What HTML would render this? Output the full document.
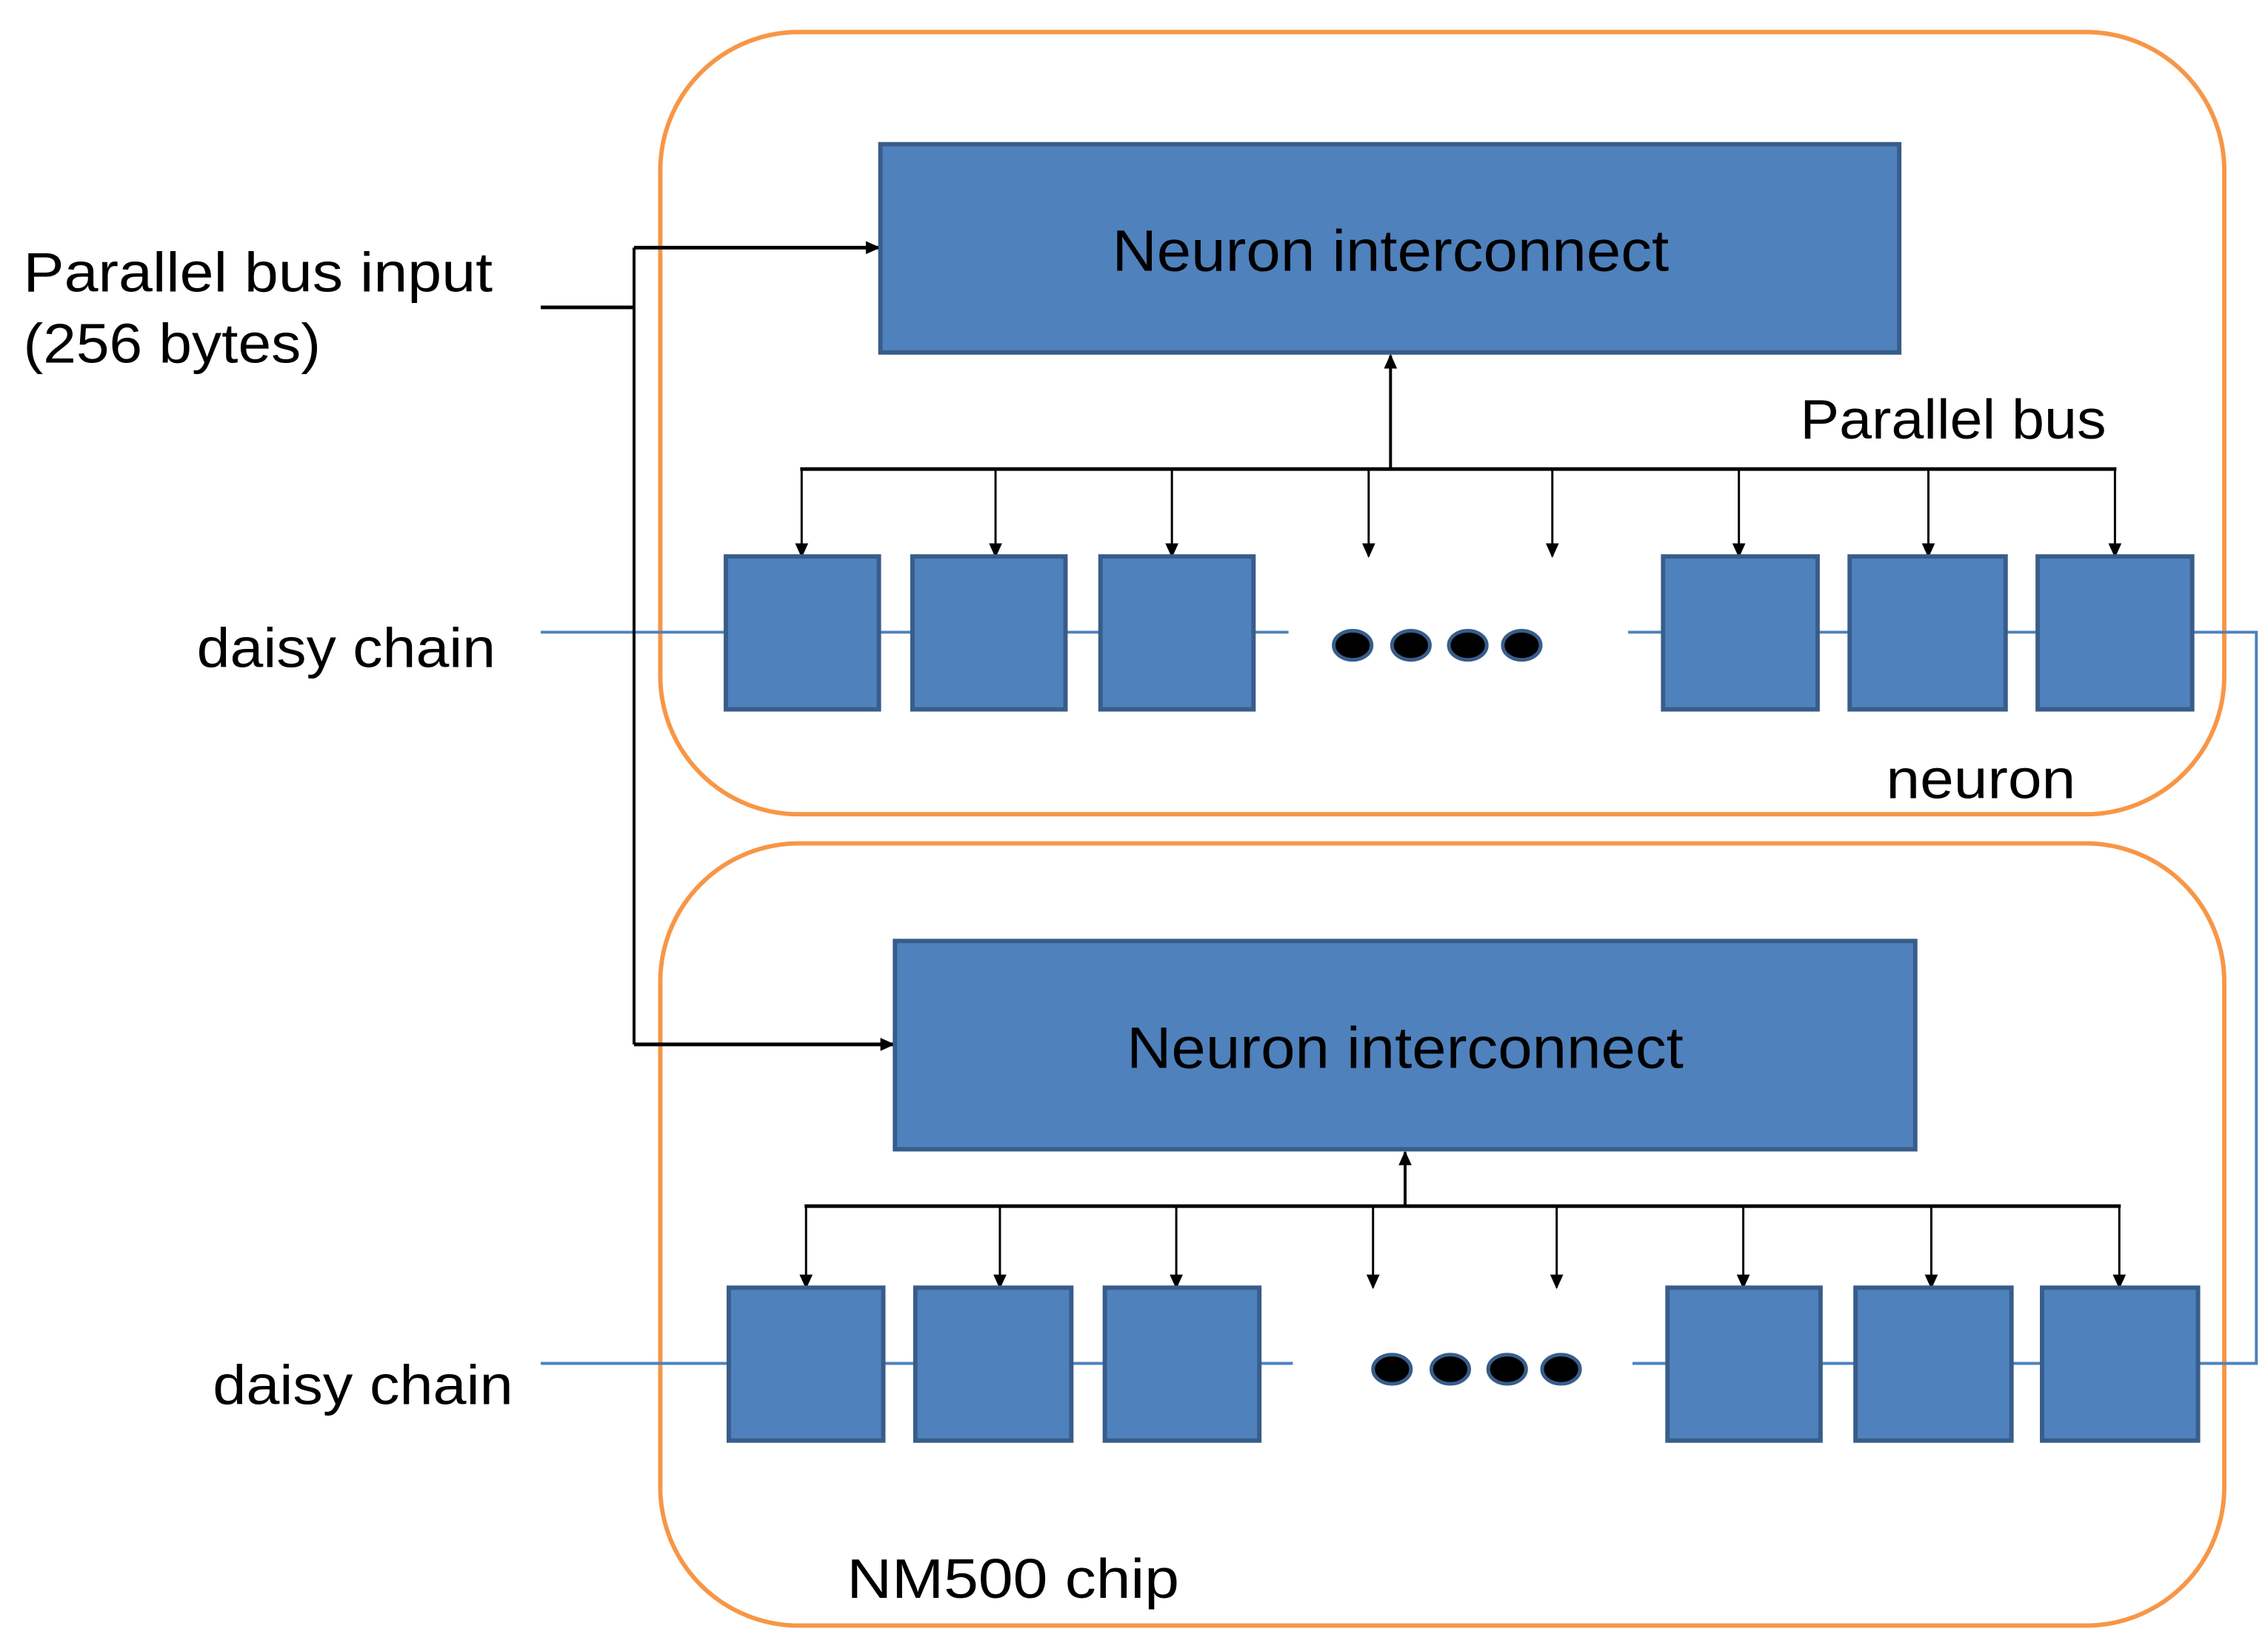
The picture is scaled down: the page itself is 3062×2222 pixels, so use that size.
<!DOCTYPE html>
<html><head><meta charset="utf-8"><style>
html,body{margin:0;padding:0;background:#fff;}
svg{display:block;}
text{font-family:"Liberation Sans",sans-serif;fill:#000;}
</style></head><body>
<svg width="3062" height="2222" viewBox="0 0 1556 1130" preserveAspectRatio="none" xmlns="http://www.w3.org/2000/svg">
<defs>
<marker id="a" markerWidth="10" markerHeight="12" refX="9" refY="5" orient="auto" markerUnits="userSpaceOnUse"><path d="M0,0.5 L10,5 L0,9.5 z" fill="#000"/></marker>
</defs>
<rect x="453" y="22" width="1073" height="537" rx="95" fill="none" stroke="#F79646" stroke-width="3"/>
<rect x="453" y="579" width="1073" height="537" rx="95" fill="none" stroke="#F79646" stroke-width="3"/>
<g stroke="#4F81BD" stroke-width="2" fill="none">
<line x1="371" y1="434" x2="884" y2="434"/>
<polyline points="1117,434 1548,434 1548,936 1508,936"/>
<line x1="371" y1="936" x2="887" y2="936"/>
<line x1="1120" y1="936" x2="1508" y2="936"/>
</g>
<g stroke="#000" stroke-width="2" fill="none">
<line x1="371" y1="211" x2="435" y2="211" stroke-width="2.5"/>
<line x1="435" y1="170" x2="435" y2="717"/>
<line x1="435" y1="170" x2="603" y2="170" marker-end="url(#a)" stroke-width="2.5"/>
<line x1="435" y1="717" x2="613" y2="717" marker-end="url(#a)" stroke-width="2.5"/>
</g>
<rect x="604" y="99" width="699" height="143" fill="#4F81BD" stroke="#385D8A" stroke-width="3"/>
<rect x="614" y="646" width="700" height="143" fill="#4F81BD" stroke="#385D8A" stroke-width="3"/>
<text x="954" y="186" font-size="40" text-anchor="middle" textLength="382" lengthAdjust="spacingAndGlyphs">Neuron interconnect</text>
<text x="964" y="733" font-size="40" text-anchor="middle" textLength="382" lengthAdjust="spacingAndGlyphs">Neuron interconnect</text>
<g stroke="#000" stroke-width="2" fill="none">
<line x1="954" y1="322" x2="954" y2="244" marker-end="url(#a)"/>
<line x1="549" y1="322" x2="1452" y2="322" stroke-width="2.5"/>
<line x1="964" y1="828" x2="964" y2="791" marker-end="url(#a)"/>
<line x1="552" y1="828" x2="1455" y2="828" stroke-width="2.5"/>
</g>
<g stroke="#000" stroke-width="1.5" fill="none" marker-end="url(#a)">
<line x1="550" y1="322" x2="550" y2="382"/><line x1="683" y1="322" x2="683" y2="382"/><line x1="804" y1="322" x2="804" y2="382"/><line x1="939" y1="322" x2="939" y2="382"/><line x1="1065" y1="322" x2="1065" y2="382"/><line x1="1193" y1="322" x2="1193" y2="382"/><line x1="1323" y1="322" x2="1323" y2="382"/><line x1="1451" y1="322" x2="1451" y2="382"/>
<line x1="553" y1="828" x2="553" y2="884"/><line x1="686" y1="828" x2="686" y2="884"/><line x1="807" y1="828" x2="807" y2="884"/><line x1="942" y1="828" x2="942" y2="884"/><line x1="1068" y1="828" x2="1068" y2="884"/><line x1="1196" y1="828" x2="1196" y2="884"/><line x1="1325" y1="828" x2="1325" y2="884"/><line x1="1454" y1="828" x2="1454" y2="884"/>
</g>
<g fill="#4F81BD" stroke="#385D8A" stroke-width="3">
<rect x="498" y="382" width="105" height="105"/><rect x="626" y="382" width="105" height="105"/><rect x="755" y="382" width="105" height="105"/>
<rect x="1141" y="382" width="106" height="105"/><rect x="1269" y="382" width="107" height="105"/><rect x="1398" y="382" width="106" height="105"/>
<rect x="500" y="884" width="106" height="105"/><rect x="628" y="884" width="107" height="105"/><rect x="758" y="884" width="106" height="105"/>
<rect x="1144" y="884" width="105" height="105"/><rect x="1273" y="884" width="107" height="105"/><rect x="1401" y="884" width="107" height="105"/>
</g>
<g fill="#000" stroke="#385D8A" stroke-width="2.5">
<ellipse cx="928" cy="443" rx="13" ry="10"/><ellipse cx="968" cy="443" rx="13" ry="10"/><ellipse cx="1007" cy="443" rx="13" ry="10"/><ellipse cx="1044" cy="443" rx="13" ry="10"/>
<ellipse cx="955" cy="940" rx="13" ry="10"/><ellipse cx="995" cy="940" rx="13" ry="10"/><ellipse cx="1034" cy="940" rx="13" ry="10"/><ellipse cx="1071" cy="940" rx="13" ry="10"/>
</g>
<text x="16" y="200" font-size="38" textLength="322" lengthAdjust="spacingAndGlyphs">Parallel bus input</text>
<text x="16" y="249" font-size="38" textLength="204" lengthAdjust="spacingAndGlyphs">(256 bytes)</text>
<text x="135" y="458" font-size="38" textLength="205" lengthAdjust="spacingAndGlyphs">daisy chain</text>
<text x="146" y="964" font-size="38" textLength="206" lengthAdjust="spacingAndGlyphs">daisy chain</text>
<text x="1235" y="301" font-size="38" textLength="210" lengthAdjust="spacingAndGlyphs">Parallel bus</text>
<text x="1294" y="548" font-size="38" textLength="130" lengthAdjust="spacingAndGlyphs">neuron</text>
<text x="581" y="1097" font-size="38" textLength="228" lengthAdjust="spacingAndGlyphs">NM500 chip</text>
</svg>
</body></html>
